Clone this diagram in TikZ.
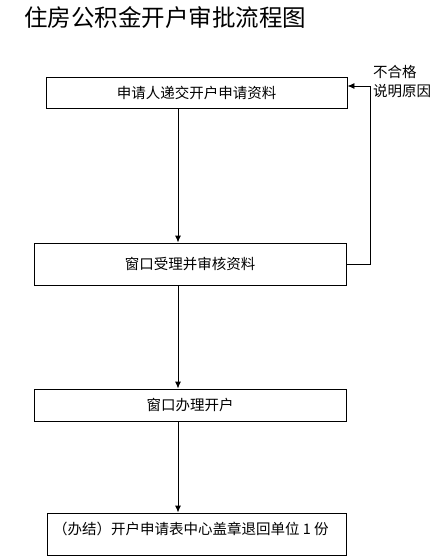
\documentclass[tikz,border=0pt]{standalone}
\usepackage{fontspec}
\setmainfont{Noto Sans CJK SC}
\usetikzlibrary{arrows.meta}
\begin{document}
\begin{tikzpicture}[x=1pt,y=-1pt,
  box/.style={draw,line width=0.9pt,inner sep=0pt,font=\fontsize{14.5}{18}\selectfont},
  lbl/.style={inner sep=0pt,font=\fontsize{14.5}{19}\selectfont},
  arr/.style={line width=0.9pt,-{Latex[length=7pt,width=6pt]}},
  ln/.style={line width=0.9pt}]
\useasboundingbox (0,0) rectangle (440,559);
\fill[white] (0,0) rectangle (440,559);
\node[inner sep=0pt,anchor=west,font=\fontsize{23.5}{26}\selectfont] (title) at (24,18) {住房公积金开户审批流程图};
\node[box,minimum width=301pt,minimum height=31pt] (b1) at (196.5,92.5) {申请人递交开户申请资料};
\node[box,minimum width=312pt,minimum height=42pt] (b2) at (190,264) {窗口受理并审核资料};
\node[box,minimum width=312pt,minimum height=32pt] (b3) at (190,405) {窗口办理开户};
\node[box,minimum width=299pt,minimum height=42pt] (b4) at (196.5,534) {};
\node[lbl,anchor=west] (t4) at (53,529) {（办结）开户申请表中心盖章退回单位 1 份};
\node[lbl,anchor=north west,align=left] (fbl) at (373,65) {不合格\\说明原因};
\coordinate (ax) at (178,0);
\coordinate (fb) at (370,86);
\draw[arr] (b1.south -| ax) -- (b2.north -| ax);
\draw[arr] (b2.south -| ax) -- (b3.north -| ax);
\draw[arr] (b3.south -| ax) -- (b4.north -| ax);
\draw[arr] (b2.east) -| (fb) -- (fb -| b1.east);
\end{tikzpicture}
\end{document}
